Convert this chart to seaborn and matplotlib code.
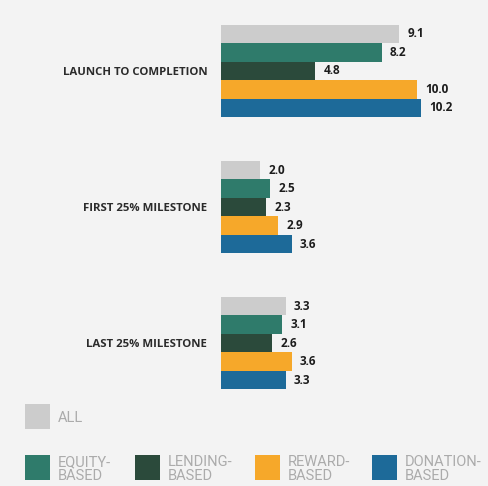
import pandas as pd
import matplotlib.pyplot as plt
import matplotlib.patches as mpatches
import seaborn as sns

# Data
stages = ['LAUNCH TO COMPLETION', 'FIRST 25% MILESTONE', 'LAST 25% MILESTONE']
types = ['ALL', 'EQUITY-BASED', 'LENDING-BASED', 'REWARD-BASED', 'DONATION-BASED']
all_vals = [9.1, 2.0, 3.3]
equity_vals = [8.2, 2.5, 3.1]
lending_vals = [4.8, 2.3, 2.6]
reward_vals = [10.0, 2.9, 3.6]
donation_vals = [10.2, 3.6, 3.3]

colors = ['#cccccc', '#2f7b6b', '#2b4a3b', '#f6a82a', '#1d6a99']
bg = '#f3f3f3'

rows = []
for t, vals in zip(types, [all_vals, equity_vals, lending_vals, reward_vals, donation_vals]):
    for s, v in zip(stages, vals):
        rows.append({'stage': s, 'type': t, 'value': v})
df = pd.DataFrame(rows)

sns.set_style('white')
plt.rcParams['font.family'] = ['Open Sans', 'DejaVu Sans']

fig = plt.figure(figsize=(4.89, 4.86), dpi=100, facecolor=bg)
ax = fig.add_axes([0.452, 0.154, 0.548, 0.84])
ax.set_facecolor(bg)

sns.barplot(data=df, y='stage', x='value', hue='type', order=stages, hue_order=types,
            palette=colors, width=0.68, orient='h', ax=ax, legend=False,
            saturation=1, linewidth=0)

for c in ax.containers:
    ax.bar_label(c, fmt='%.1f', padding=6, fontsize=8.5, fontweight='bold', color='#1c1c1c')

ax.set_xlim(0, 13.67)
ax.set_ylim(2.5, -0.5)
ax.set_xlabel('')
ax.set_ylabel('')
ax.set_xticks([])
ax.tick_params(axis='y', length=0, pad=10)
for lab in ax.get_yticklabels():
    lab.set_fontsize(8.2)
    lab.set_fontweight('bold')
    lab.set_color('#2b2b2b')
sns.despine(ax=ax, left=True, bottom=True)

# Legend drawn manually
W, H = 489.0, 486.0
def add_key(x, y, color, text):
    fig.patches.append(mpatches.Rectangle((x / W, 1 - (y + 25) / H), 25 / W, 25 / H,
                                          transform=fig.transFigure, facecolor=color,
                                          edgecolor='none'))
    fig.text((x + 33) / W, 1 - (y + 14) / H, text, fontsize=10.5, color='#ababab',
             va='center', ha='left', linespacing=0.95, family=['Roboto', 'DejaVu Sans'])

add_key(25, 404, colors[0], 'ALL')
add_key(25, 455, colors[1], 'EQUITY-\nBASED')
add_key(135, 455, colors[2], 'LENDING-\nBASED')
add_key(255, 455, colors[3], 'REWARD-\nBASED')
add_key(372, 455, colors[4], 'DONATION-\nBASED')

fig.savefig('out.png', dpi=100, facecolor=bg)
